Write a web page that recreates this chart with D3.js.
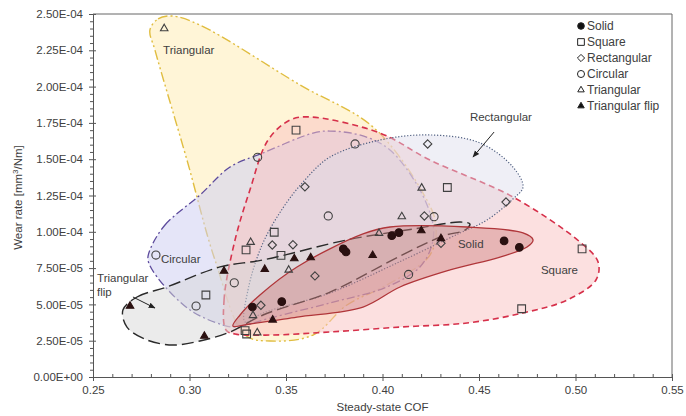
<!DOCTYPE html>
<html>
<head>
<meta charset="utf-8">
<script src="https://cdn.jsdelivr.net/npm/d3@7"></script>
<style>
  body { margin: 0; background: #fff; }
  text { font-family: "Liberation Sans", Arial, sans-serif; fill: #404040; }
</style>
</head>
<body>
<div id="chart"></div>
<script>
// Series order and names
const seriesNames = ["Solid", "Square", "Rectangular", "Circular", "Triangular", "Triangular flip"];

// Measured points [COF, wear rate]
const solidPts = [[0.3326, 4.82e-5], [0.3478, 5.19e-5], [0.3797, 8.82e-5], [0.3811, 8.61e-5],
                  [0.4048, 9.73e-5], [0.4085, 9.94e-5], [0.4630, 9.37e-5], [0.4709, 8.93e-5]];
const squarePts = [[0.3552, 1.70e-4], [0.4336, 1.305e-4], [0.3439, 9.97e-5], [0.3293, 8.75e-5],
                   [0.3474, 8.38e-5], [0.3085, 5.65e-5], [0.5034, 8.82e-5], [0.4721, 4.70e-5],
                   [0.3288, 3.19e-5], [0.3296, 2.96e-5]];
const rectPts = [[0.3598, 1.31e-4], [0.4234, 1.605e-4], [0.4640, 1.205e-4], [0.3429, 9.09e-5],
                 [0.3536, 9.11e-5], [0.3650, 6.96e-5], [0.4217, 1.109e-4], [0.4303, 9.21e-5],
                 [0.3370, 4.94e-5]];
const circPts = [[0.3858, 1.605e-4], [0.3353, 1.513e-4], [0.2826, 8.4e-5], [0.3034, 4.89e-5],
                 [0.3232, 6.49e-5], [0.3719, 1.109e-4], [0.4267, 1.104e-4], [0.4135, 7.06e-5]];
const triPts = [[0.2869, 2.40e-4], [0.3317, 9.28e-5], [0.3514, 7.37e-5], [0.3329, 4.24e-5],
                [0.3351, 3.05e-5], [0.3982, 9.90e-5], [0.4100, 1.105e-4], [0.4203, 1.302e-4]];
const flipPts = [[0.2692, 4.89e-5], [0.3077, 2.82e-5], [0.3179, 7.30e-5], [0.3390, 7.42e-5],
                 [0.3543, 8.15e-5], [0.3628, 8.22e-5], [0.3949, 8.38e-5], [0.4201, 1.008e-4],
                 [0.4303, 9.54e-5], [0.3431, 3.93e-5]];

// Hand-drawn envelopes round each group [COF, wear rate]
const triOutline = [[0.2795, 23.90e-5], [0.2837, 24.66e-5], [0.2909, 24.86e-5], [0.3054, 24.24e-5],
  [0.3573, 20.11e-5], [0.3951, 17.22e-5], [0.4210, 12.67e-5], [0.4277, 10.47e-5], [0.4246, 8.40e-5],
  [0.4023, 6.34e-5], [0.3816, 4.96e-5], [0.3640, 2.89e-5], [0.3417, 2.48e-5], [0.3288, 2.89e-5],
  [0.3132, 8.06e-5], [0.2987, 14.94e-5], [0.2821, 22.52e-5]];
const circOutline = [[0.2795, 8.75e-5], [0.2873, 10.47e-5], [0.3054, 12.53e-5], [0.3210, 14.46e-5],
  [0.3381, 15.43e-5], [0.3640, 16.80e-5], [0.3728, 16.94e-5], [0.3899, 16.60e-5], [0.4039, 15.63e-5],
  [0.4194, 12.88e-5], [0.4262, 10.47e-5], [0.4256, 9.09e-5], [0.4194, 7.58e-5], [0.4023, 6.20e-5],
  [0.3728, 5.10e-5], [0.3417, 4.06e-5], [0.3246, 3.44e-5], [0.3174, 3.58e-5], [0.3003, 4.61e-5],
  [0.2832, 6.89e-5], [0.2785, 8.06e-5]];
const squareOutline = [[0.3189, 3.24e-5], [0.3179, 5.30e-5], [0.3236, 9.44e-5], [0.3313, 12.88e-5],
  [0.3407, 16.32e-5], [0.3521, 17.70e-5], [0.3624, 17.91e-5], [0.3987, 16.80e-5], [0.4246, 14.94e-5],
  [0.4676, 12.40e-5], [0.5023, 9.30e-5], [0.5117, 7.92e-5], [0.5106, 6.68e-5], [0.4956, 5.30e-5],
  [0.4728, 4.41e-5], [0.4438, 3.72e-5], [0.4091, 3.44e-5], [0.3728, 3.10e-5], [0.3417, 2.89e-5],
  [0.3236, 2.96e-5]];
const rectOutline = [[0.3288, 3.79e-5], [0.3303, 5.99e-5], [0.3376, 9.09e-5], [0.3484, 11.64e-5],
  [0.3598, 13.57e-5], [0.3728, 15.15e-5], [0.3987, 16.32e-5], [0.4246, 16.67e-5], [0.4505, 16.12e-5],
  [0.4676, 14.46e-5], [0.4728, 13.09e-5], [0.4676, 12.26e-5], [0.4541, 10.81e-5], [0.4402, 9.92e-5],
  [0.4075, 7.85e-5], [0.3728, 5.79e-5], [0.3381, 4.41e-5]];
const solidOutline = [[0.3225, 3.51e-5], [0.3262, 4.27e-5], [0.3365, 5.65e-5], [0.3557, 7.58e-5],
  [0.3899, 9.85e-5], [0.4039, 10.33e-5], [0.4438, 10.33e-5], [0.4728, 9.92e-5], [0.4780, 9.44e-5],
  [0.4749, 8.95e-5], [0.4609, 8.26e-5], [0.4350, 7.37e-5], [0.4091, 6.20e-5], [0.3899, 4.82e-5],
  [0.3557, 4.13e-5], [0.3313, 3.65e-5]];
const flipOutline = [[0.2655, 4.61e-5], [0.2728, 5.51e-5], [0.2883, 6.20e-5], [0.3158, 7.58e-5],
  [0.3381, 8.06e-5], [0.3816, 9.44e-5], [0.4158, 10.19e-5], [0.4402, 10.67e-5], [0.4453, 10.54e-5],
  [0.4427, 10.12e-5], [0.4313, 9.71e-5], [0.4091, 8.33e-5], [0.3728, 5.85e-5], [0.3381, 4.27e-5],
  [0.3210, 3.10e-5], [0.3054, 2.48e-5], [0.2915, 2.20e-5], [0.2780, 2.55e-5], [0.2676, 3.44e-5]];

// In-plot labels [text, COF, wear rate] and arrows [from, to]
const labels = [["Triangular", 0.2863, 22.52e-5], ["Circular", 0.2852, 8.11e-5], ["Solid", 0.4391, 9.16e-5],
                ["Square", 0.4821, 7.37e-5], ["Rectangular", 0.4453, 17.91e-5],
                ["Triangular", 0.2521, 6.82e-5], ["flip", 0.2521, 5.85e-5]];
const arrows = [[[0.4578, 16.87e-5], [0.4469, 15.15e-5]], [[0.2707, 5.51e-5], [0.2821, 4.75e-5]]];

// Axis ticks
const xTicks = [0.25, 0.30, 0.35, 0.40, 0.45, 0.50, 0.55];
const yTicks = [0, 2.5e-5, 5e-5, 7.5e-5, 1e-4, 1.25e-4, 1.5e-4, 1.75e-4, 2e-4, 2.25e-4, 2.5e-4];

const W = 686, H = 416;
const pL = 93, pR = 672, pT = 14, pB = 377;

const svg = d3.select("#chart").append("svg")
    .attr("width", W).attr("height", H);

const x = d3.scaleLinear().domain([0.25, 0.55]).range([pL, pR]);
const y = d3.scaleLinear().domain([0, 2.5e-4]).range([pB, pT]);

const fmtE = function(v) {
    if (v === 0) return "0.00E+00";
    const parts = v.toExponential(2).split("e");
    const e = +parts[1];
    return parts[0] + "E" + (e < 0 ? "-" : "+") + String(Math.abs(e)).padStart(2, "0");
};

// Envelopes
const shape = d3.line()
    .x(d => x(d[0]))
    .y(d => y(d[1]))
    .curve(d3.curveCatmullRomClosed.alpha(0.5));

const envelopes = [
    { pts: triOutline, fill: "#fff1c9", op: 0.75, stroke: "#e0bd40", dash: "10,3,2,3,2,3", w: 1.4 },
    { pts: circOutline, fill: "#d0d0f2", op: 0.55, stroke: "#5c4a9c", dash: "8,3,2,3", w: 1.3 },
    { pts: squareOutline, fill: "#f9c2c2", op: 0.5, stroke: "#d6304a", dash: "6,4", w: 1.6 },
    { pts: rectOutline, fill: "#dcdcea", op: 0.45, stroke: "#4f5f80", dash: "1.2,1.8", w: 1.2 },
    { pts: flipOutline, fill: "#d8d8d8", op: 0.5, stroke: "#2a2a2a", dash: "12,5", w: 1.4 },
    { pts: solidOutline, fill: "#cf8080", op: 0.45, stroke: "#b0363a", dash: null, w: 1.3 }
];

envelopes.forEach(function(e) {
    svg.append("path")
        .attr("d", shape(e.pts))
        .attr("fill", e.fill)
        .attr("fill-opacity", e.op)
        .attr("stroke", e.stroke)
        .attr("stroke-width", e.w)
        .attr("stroke-dasharray", e.dash);
});

// Markers
const sym = {
    "Solid": { type: d3.symbolCircle, size: 46, filled: true },
    "Square": { type: d3.symbolSquare, size: 60, filled: false },
    "Rectangular": { type: d3.symbolDiamond2, size: 44, filled: false },
    "Circular": { type: d3.symbolCircle, size: 52, filled: false },
    "Triangular": { type: d3.symbolTriangle2, size: 40, filled: false },
    "Triangular flip": { type: d3.symbolTriangle2, size: 40, filled: true }
};
const seriesPts = [solidPts, squarePts, rectPts, circPts, triPts, flipPts];

seriesNames.forEach(function(name, i) {
    const s = sym[name];
    svg.append("g").selectAll("path")
        .data(seriesPts[i])
      .enter().append("path")
        .attr("transform", d => "translate(" + x(d[0]) + "," + y(d[1]) + ")")
        .attr("d", d3.symbol().type(s.type).size(s.size))
        .attr("fill", s.filled ? "#2a1010" : "none")
        .attr("stroke", s.filled ? "#2a1010" : "#404040")
        .attr("stroke-width", 1.1);
});

// Labels and arrows
svg.append("defs").append("marker")
    .attr("id", "head").attr("viewBox", "0 0 10 10")
    .attr("refX", 9).attr("refY", 5)
    .attr("markerWidth", 7).attr("markerHeight", 7)
    .attr("orient", "auto")
  .append("path").attr("d", "M0,1 L10,5 L0,9 z").attr("fill", "#222");

svg.append("g").selectAll("line")
    .data(arrows)
  .enter().append("line")
    .attr("x1", d => x(d[0][0])).attr("y1", d => y(d[0][1]))
    .attr("x2", d => x(d[1][0])).attr("y2", d => y(d[1][1]))
    .attr("stroke", "#222").attr("stroke-width", 1)
    .attr("marker-end", "url(#head)");

svg.append("g").selectAll("text")
    .data(labels)
  .enter().append("text")
    .attr("x", d => x(d[1])).attr("y", d => y(d[2]))
    .attr("dy", "0.35em")
    .style("font-size", "11.5px")
    .text(d => d[0]);

// Axes
const gx = svg.append("g").attr("transform", "translate(0," + pB + ")");
gx.call(d3.axisBottom(x).tickValues(xTicks).tickFormat(d3.format(".2f")).tickSize(4).tickPadding(5));
gx.append("g").call(d3.axisBottom(x).tickValues(xTicks).tickSize(-3).tickFormat(""));
gx.append("g").call(d3.axisBottom(x).tickValues(d3.range(0.26, 0.55, 0.01).filter(v => Math.abs(v * 20 - Math.round(v * 20)) > 0.01))
    .tickSize(-3).tickFormat(""));

const gy = svg.append("g").attr("transform", "translate(" + pL + ",0)");
gy.call(d3.axisLeft(y).tickValues(yTicks).tickFormat(fmtE).tickSize(4).tickPadding(6));
gy.append("g").call(d3.axisLeft(y).tickValues(yTicks).tickSize(-3).tickFormat(""));
gy.append("g").call(d3.axisLeft(y).tickValues(d3.range(0, 2.5e-4, 5e-6).filter((v, i) => i % 5 !== 0))
    .tickSize(3).tickFormat(""));

svg.selectAll(".domain, .tick line").attr("stroke", "#555");
svg.selectAll(".tick text").style("font-size", "11.5px").attr("fill", "#404040");

// Frame
svg.append("path")
    .attr("d", "M" + pL + "," + pT + "H" + pR + "V" + pB)
    .attr("fill", "none").attr("stroke", "#666").attr("stroke-width", 1);

// Axis titles
svg.append("text")
    .attr("x", (pL + pR) / 2).attr("y", 411)
    .style("text-anchor", "middle").style("font-size", "11.5px")
    .text("Steady-state COF");

const yt = svg.append("text")
    .attr("transform", "translate(22," + ((pT + pB) / 2 + 2) + ") rotate(-90)")
    .style("text-anchor", "middle").style("font-size", "11.5px");
yt.append("tspan").text("Wear rate [mm");
yt.append("tspan").attr("dy", "-4").style("font-size", "8px").text("3");
yt.append("tspan").attr("dy", "4").text("/Nm]");

// Legend
const legend = svg.append("g").attr("transform", "translate(581,26)");
seriesNames.forEach(function(name, i) {
    const s = sym[name];
    const row = legend.append("g").attr("transform", "translate(0," + i * 16 + ")");
    row.append("path")
        .attr("d", d3.symbol().type(s.type).size(s.size * 0.75))
        .attr("fill", s.filled ? "#111" : "none")
        .attr("stroke", "#222").attr("stroke-width", 1);
    row.append("text").attr("x", 6).attr("dy", "0.35em")
        .style("font-size", "12px").text(name);
});
</script>
</body>
</html>
